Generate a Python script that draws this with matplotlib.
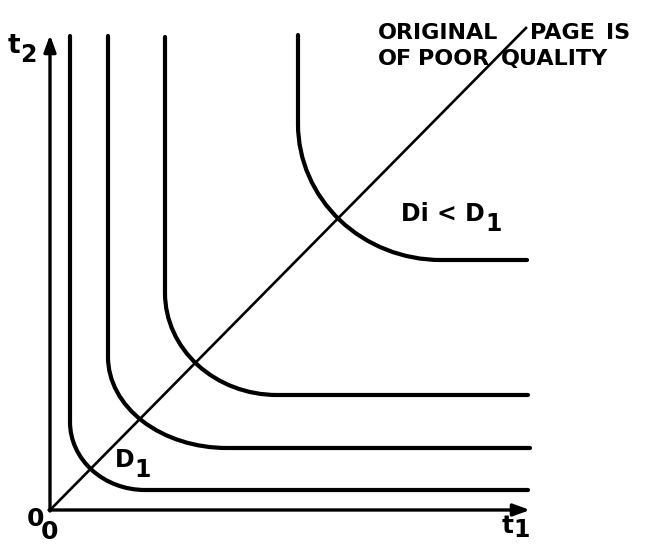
import matplotlib
matplotlib.use("Agg")
import matplotlib.pyplot as plt
from matplotlib.patches import Arc

plt.rcParams['font.family'] = ['DejaVu Sans']

# iso-curves: vertical leg x, horizontal leg y, and where the bend ends
leg_x = [20, 58, 115, 248]
leg_y = [20, 62, 115, 250]
bend_y = [88, 153, 217, 386]
bend_x = [95, 177, 227, 391]
tops = [474, 474, 473, 475]
ends = [478, 480, 478, 477]

# t1 = t2 line
diag_x = [0, 476]
diag_y = [0, 482]

axis_len_x = 480
axis_len_y = 475

# stamp in the corner, word by word
stamp_words = ['ORIGINAL', 'PAGE', 'IS', 'OF', 'POOR', 'QUALITY']
stamp_x = [328, 480, 556, 328, 368, 451]
stamp_y = [471, 471, 471, 445, 445, 445]

fig = plt.figure(figsize=(6.56, 5.45), dpi=100)
ax = fig.add_axes([0, 0, 1, 1])
ax.set_xlim(-50, 606)
ax.set_ylim(-35, 510)
ax.axis('off')

lw = 3.0
for xv, yh, cy, cx, top, end in zip(leg_x, leg_y, bend_y, bend_x, tops, ends):
    ax.plot([xv, xv], [top, cy], color='black', lw=lw, solid_capstyle='round')
    ax.plot([cx, end], [yh, yh], color='black', lw=lw, solid_capstyle='round')
    ax.add_patch(Arc((cx, cy), 2 * (cx - xv), 2 * (cy - yh), theta1=180, theta2=270,
                     color='black', lw=lw))

ax.plot(diag_x, diag_y, color='black', lw=1.9)

arrow = dict(arrowstyle='-|>,head_length=0.55,head_width=0.2', color='black',
             lw=2.4, mutation_scale=18, shrinkA=0, shrinkB=0)
ax.annotate('', xy=(0, axis_len_y), xytext=(0, -1), arrowprops=arrow)
ax.annotate('', xy=(axis_len_x, 0), xytext=(-1, 0), arrowprops=arrow)

bold = dict(fontweight='bold', color='black', ha='center', va='center')
ax.text(-36, 464, 't', fontsize=19, **bold)
ax.text(-22, 455, '2', fontsize=17, **bold)
ax.text(-15, -9, '0', fontsize=18, **bold)
ax.text(0, -22, '0', fontsize=18, **bold)
ax.text(458, -16, 't', fontsize=18, **bold)
ax.text(472, -20, '1', fontsize=17, **bold)
ax.text(75, 50, 'D', fontsize=17, **bold)
ax.text(93, 40, '1', fontsize=17, **bold)
ax.text(435, 296, 'Di < D', fontsize=17, fontweight='bold', ha='right', va='center')
ax.text(444, 286, '1', fontsize=17, **bold)

for word, wx, wy in zip(stamp_words, stamp_x, stamp_y):
    ax.text(wx, wy, word, fontsize=16, fontweight='bold', ha='left', va='baseline')

fig.savefig('out.png', dpi=100)
